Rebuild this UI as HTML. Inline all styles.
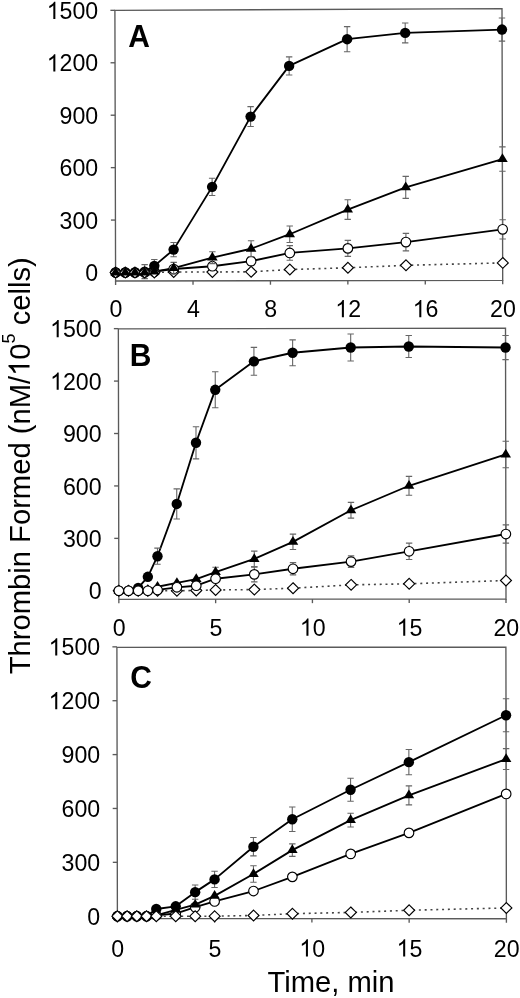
<!DOCTYPE html>
<html><head><meta charset="utf-8"><style>
html,body{margin:0;padding:0;background:#fff;}
body{width:520px;height:998px;overflow:hidden;}
svg{display:block;filter:grayscale(1);}
.tl{font-family:"Liberation Sans",sans-serif;font-size:24px;fill:#000;}
.pl{font-family:"Liberation Sans",sans-serif;font-size:30px;font-weight:bold;fill:#000;}
.at{font-family:"Liberation Sans",sans-serif;font-size:29.2px;fill:#000;}
</style></head><body>
<svg width="520" height="998" viewBox="0 0 520 998">
<path d="M114.90 10.40L502.00 8.70L502.70 280.30L115.60 281.00Z" fill="none" stroke="#5a5a5a" stroke-width="1.35"/>
<path d="M111.08 272.50H115.58" stroke="#5a5a5a" stroke-width="1.35"/>
<path d="M110.94 220.07H115.44" stroke="#5a5a5a" stroke-width="1.35"/>
<path d="M110.81 167.64H115.31" stroke="#5a5a5a" stroke-width="1.35"/>
<path d="M110.67 115.21H115.17" stroke="#5a5a5a" stroke-width="1.35"/>
<path d="M110.54 62.78H115.04" stroke="#5a5a5a" stroke-width="1.35"/>
<path d="M110.40 10.34H114.90" stroke="#5a5a5a" stroke-width="1.35"/>
<path d="M115.60 281.00V285.00" stroke="#5a5a5a" stroke-width="1.35"/>
<path d="M193.02 280.86V284.86" stroke="#5a5a5a" stroke-width="1.35"/>
<path d="M270.44 280.72V284.72" stroke="#5a5a5a" stroke-width="1.35"/>
<path d="M347.86 280.58V284.58" stroke="#5a5a5a" stroke-width="1.35"/>
<path d="M425.28 280.44V284.44" stroke="#5a5a5a" stroke-width="1.35"/>
<path d="M502.70 280.30V284.30" stroke="#5a5a5a" stroke-width="1.35"/>
<g transform="translate(98.25 0) scale(0.965 1) translate(-98.25 0)"><text x="84.90" y="281.10" class="tl">0</text></g>
<g transform="translate(98.25 0) scale(0.965 1) translate(-98.25 0)"><text x="58.21" y="228.67" class="tl">300</text></g>
<g transform="translate(98.25 0) scale(0.965 1) translate(-98.25 0)"><text x="58.21" y="176.24" class="tl">600</text></g>
<g transform="translate(98.25 0) scale(0.965 1) translate(-98.25 0)"><text x="58.21" y="123.81" class="tl">900</text></g>
<g transform="translate(98.25 0) scale(0.965 1) translate(-98.25 0)"><path transform="translate(44.86 71.38) scale(0.01172 -0.01172)" d="M763 0H583V1147Q518 1085 412 1023Q307 961 223 930V1104Q374 1175 487 1276Q600 1377 647 1472H763Z"/><text x="58.21" y="71.38" class="tl">200</text></g>
<g transform="translate(98.25 0) scale(0.965 1) translate(-98.25 0)"><path transform="translate(44.86 18.94) scale(0.01172 -0.01172)" d="M763 0H583V1147Q518 1085 412 1023Q307 961 223 930V1104Q374 1175 487 1276Q600 1377 647 1472H763Z"/><text x="58.21" y="18.94" class="tl">500</text></g>
<g transform="translate(115.90 0) scale(0.965 1) translate(-115.90 0)"><text x="109.23" y="317.35" class="tl">0</text></g>
<g transform="translate(193.32 0) scale(0.965 1) translate(-193.32 0)"><text x="186.65" y="317.35" class="tl">4</text></g>
<g transform="translate(270.74 0) scale(0.965 1) translate(-270.74 0)"><text x="264.07" y="317.35" class="tl">8</text></g>
<g transform="translate(348.16 0) scale(0.965 1) translate(-348.16 0)"><path transform="translate(334.81 317.35) scale(0.01172 -0.01172)" d="M763 0H583V1147Q518 1085 412 1023Q307 961 223 930V1104Q374 1175 487 1276Q600 1377 647 1472H763Z"/><text x="348.16" y="317.35" class="tl">2</text></g>
<g transform="translate(425.58 0) scale(0.965 1) translate(-425.58 0)"><path transform="translate(412.23 317.35) scale(0.01172 -0.01172)" d="M763 0H583V1147Q518 1085 412 1023Q307 961 223 930V1104Q374 1175 487 1276Q600 1377 647 1472H763Z"/><text x="425.58" y="317.35" class="tl">6</text></g>
<g transform="translate(503.00 0) scale(0.965 1) translate(-503.00 0)"><text x="489.65" y="317.35" class="tl">20</text></g>
<text transform="translate(128.2 47.1) scale(1 1.07)" class="pl">A</text>
<polyline points="115.62,272.50 125.30,272.50 134.98,272.50 144.66,271.63 154.32,265.86 173.62,249.61 212.12,186.86 250.60,116.61 289.14,65.92 347.13,39.18 405.19,32.89 501.97,29.57" fill="none" stroke="#000" stroke-width="1.85" stroke-linejoin="round"/>
<polyline points="115.62,272.50 125.30,272.50 134.98,272.50 144.66,272.50 154.34,271.63 173.69,268.13 212.37,257.64 251.06,248.73 289.73,234.23 347.72,209.58 405.73,187.39 502.43,159.07" fill="none" stroke="#000" stroke-width="1.85" stroke-linejoin="round"/>
<polyline points="115.62,272.50 125.30,272.50 134.98,272.50 144.66,272.50 154.34,271.63 173.69,269.00 212.40,266.21 251.10,261.14 289.80,252.93 347.86,248.38 405.92,242.09 502.67,229.33" fill="none" stroke="#000" stroke-width="1.85" stroke-linejoin="round"/>
<polyline points="115.62,272.50 125.30,272.50 134.98,272.50 144.66,272.50 154.34,272.50 173.70,271.98 212.42,271.98 251.14,271.80 289.85,269.53 347.93,267.78 406.00,265.33 502.79,262.89" fill="none" stroke="#444" stroke-width="1.6" stroke-dasharray="2 3.8"/>
<path d="M173.62 242.44V256.77M170.42 242.44H176.82M170.42 256.77H176.82" stroke="#666" stroke-width="1.1" fill="none"/>
<path d="M212.12 178.30V195.43M208.92 178.30H215.32M208.92 195.43H215.32" stroke="#666" stroke-width="1.1" fill="none"/>
<path d="M250.60 106.64V126.57M247.40 106.64H253.80M247.40 126.57H253.80" stroke="#666" stroke-width="1.1" fill="none"/>
<path d="M289.14 56.83V75.01M285.94 56.83H292.34M285.94 75.01H292.34" stroke="#666" stroke-width="1.1" fill="none"/>
<path d="M347.13 26.60V51.77M343.93 26.60H350.33M343.93 51.77H350.33" stroke="#666" stroke-width="1.1" fill="none"/>
<path d="M405.19 22.93V42.85M401.99 22.93H408.39M401.99 42.85H408.39" stroke="#666" stroke-width="1.1" fill="none"/>
<path d="M501.97 18.03V41.10M498.77 18.03H505.17M498.77 41.10H505.17" stroke="#666" stroke-width="1.1" fill="none"/>
<circle cx="173.62" cy="249.61" r="5.2" fill="#000"/>
<circle cx="212.12" cy="186.86" r="5.2" fill="#000"/>
<circle cx="250.60" cy="116.61" r="5.2" fill="#000"/>
<circle cx="289.14" cy="65.92" r="5.2" fill="#000"/>
<circle cx="347.13" cy="39.18" r="5.2" fill="#000"/>
<circle cx="405.19" cy="32.89" r="5.2" fill="#000"/>
<circle cx="501.97" cy="29.57" r="5.2" fill="#000"/>
<path d="M173.70 266.58L179.20 271.98L173.70 277.38L168.20 271.98Z" fill="#fff" stroke="#000" stroke-width="1.15"/>
<path d="M212.42 266.58L217.92 271.98L212.42 277.38L206.92 271.98Z" fill="#fff" stroke="#000" stroke-width="1.15"/>
<path d="M251.14 266.40L256.64 271.80L251.14 277.20L245.64 271.80Z" fill="#fff" stroke="#000" stroke-width="1.15"/>
<path d="M289.85 264.13L295.35 269.53L289.85 274.93L284.35 269.53Z" fill="#fff" stroke="#000" stroke-width="1.15"/>
<path d="M347.93 262.38L353.43 267.78L347.93 273.18L342.43 267.78Z" fill="#fff" stroke="#000" stroke-width="1.15"/>
<path d="M406.00 259.93L411.50 265.33L406.00 270.73L400.50 265.33Z" fill="#fff" stroke="#000" stroke-width="1.15"/>
<path d="M502.79 257.49L508.29 262.89L502.79 268.29L497.29 262.89Z" fill="#fff" stroke="#000" stroke-width="1.15"/>
<path d="M251.10 257.12V265.16M247.90 257.12H254.30M247.90 265.16H254.30" stroke="#666" stroke-width="1.1" fill="none"/>
<path d="M289.80 245.59V260.27M286.60 245.59H293.00M286.60 260.27H293.00" stroke="#666" stroke-width="1.1" fill="none"/>
<path d="M347.86 240.34V256.42M344.66 240.34H351.06M344.66 256.42H351.06" stroke="#666" stroke-width="1.1" fill="none"/>
<path d="M405.92 233.35V250.83M402.72 233.35H409.12M402.72 250.83H409.12" stroke="#666" stroke-width="1.1" fill="none"/>
<path d="M502.67 219.72V238.94M499.47 219.72H505.87M499.47 238.94H505.87" stroke="#666" stroke-width="1.1" fill="none"/>
<circle cx="173.69" cy="269.00" r="4.8" fill="#fff" stroke="#000" stroke-width="1.15"/>
<circle cx="212.40" cy="266.21" r="4.8" fill="#fff" stroke="#000" stroke-width="1.15"/>
<circle cx="251.10" cy="261.14" r="4.8" fill="#fff" stroke="#000" stroke-width="1.15"/>
<circle cx="289.80" cy="252.93" r="4.8" fill="#fff" stroke="#000" stroke-width="1.15"/>
<circle cx="347.86" cy="248.38" r="4.8" fill="#fff" stroke="#000" stroke-width="1.15"/>
<circle cx="405.92" cy="242.09" r="4.8" fill="#fff" stroke="#000" stroke-width="1.15"/>
<circle cx="502.67" cy="229.33" r="4.8" fill="#fff" stroke="#000" stroke-width="1.15"/>
<path d="M173.69 262.36V273.90M170.49 262.36H176.89M170.49 273.90H176.89" stroke="#666" stroke-width="1.1" fill="none"/>
<path d="M212.37 251.70V263.59M209.17 251.70H215.57M209.17 263.59H215.57" stroke="#666" stroke-width="1.1" fill="none"/>
<path d="M251.06 240.69V256.77M247.86 240.69H254.26M247.86 256.77H254.26" stroke="#666" stroke-width="1.1" fill="none"/>
<path d="M289.73 226.01V242.44M286.53 226.01H292.93M286.53 242.44H292.93" stroke="#666" stroke-width="1.1" fill="none"/>
<path d="M347.72 199.80V219.37M344.52 199.80H350.92M344.52 219.37H350.92" stroke="#666" stroke-width="1.1" fill="none"/>
<path d="M405.73 176.38V198.40M402.53 176.38H408.93M402.53 198.40H408.93" stroke="#666" stroke-width="1.1" fill="none"/>
<path d="M502.43 146.84V171.31M499.23 146.84H505.63M499.23 171.31H505.63" stroke="#666" stroke-width="1.1" fill="none"/>
<path d="M173.69 262.33L178.99 271.03H168.39Z" fill="#000"/>
<path d="M212.37 251.84L217.67 260.54H207.07Z" fill="#000"/>
<path d="M251.06 242.93L256.36 251.63H245.76Z" fill="#000"/>
<path d="M289.73 228.43L295.03 237.13H284.43Z" fill="#000"/>
<path d="M347.72 203.78L353.02 212.48H342.42Z" fill="#000"/>
<path d="M405.73 181.59L411.03 190.29H400.43Z" fill="#000"/>
<path d="M502.43 153.27L507.73 161.97H497.13Z" fill="#000"/>
<circle cx="115.62" cy="272.50" r="4.8" fill="#fff" stroke="#000" stroke-width="1.15"/>
<circle cx="125.30" cy="272.50" r="4.8" fill="#fff" stroke="#000" stroke-width="1.15"/>
<circle cx="134.98" cy="272.50" r="4.8" fill="#fff" stroke="#000" stroke-width="1.15"/>
<circle cx="144.66" cy="272.50" r="4.8" fill="#fff" stroke="#000" stroke-width="1.15"/>
<circle cx="154.34" cy="271.63" r="4.8" fill="#fff" stroke="#000" stroke-width="1.15"/>
<path d="M144.66 264.64V278.62M141.46 264.64H147.86M141.46 278.62H147.86" stroke="#666" stroke-width="1.1" fill="none"/>
<path d="M154.32 259.57V272.15M151.12 259.57H157.52M151.12 272.15H157.52" stroke="#666" stroke-width="1.1" fill="none"/>
<circle cx="115.62" cy="272.50" r="5.2" fill="#000"/>
<circle cx="125.30" cy="272.50" r="5.2" fill="#000"/>
<circle cx="134.98" cy="272.50" r="5.2" fill="#000"/>
<circle cx="144.66" cy="271.63" r="5.2" fill="#000"/>
<circle cx="154.32" cy="265.86" r="5.2" fill="#000"/>
<path d="M115.62 267.10L121.12 272.50L115.62 277.90L110.12 272.50Z" fill="#fff" stroke="#000" stroke-width="1.15"/>
<path d="M125.30 267.10L130.80 272.50L125.30 277.90L119.80 272.50Z" fill="#fff" stroke="#000" stroke-width="1.15"/>
<path d="M134.98 267.10L140.48 272.50L134.98 277.90L129.48 272.50Z" fill="#fff" stroke="#000" stroke-width="1.15"/>
<path d="M144.66 267.10L150.16 272.50L144.66 277.90L139.16 272.50Z" fill="#fff" stroke="#000" stroke-width="1.15"/>
<path d="M154.34 267.10L159.84 272.50L154.34 277.90L148.84 272.50Z" fill="#fff" stroke="#000" stroke-width="1.15"/>
<path d="M115.62 266.70L120.92 275.40H110.32Z" fill="#000"/>
<path d="M125.30 266.70L130.60 275.40H120.00Z" fill="#000"/>
<path d="M134.98 266.70L140.28 275.40H129.68Z" fill="#000"/>
<path d="M144.66 266.70L149.96 275.40H139.36Z" fill="#000"/>
<path d="M154.34 265.83L159.64 274.53H149.04Z" fill="#000"/>
<path d="M118.35 328.80L505.50 328.10L506.00 599.00L118.85 599.30Z" fill="none" stroke="#5a5a5a" stroke-width="1.35"/>
<path d="M114.33 590.80H118.83" stroke="#5a5a5a" stroke-width="1.35"/>
<path d="M114.24 538.37H118.74" stroke="#5a5a5a" stroke-width="1.35"/>
<path d="M114.14 485.94H118.64" stroke="#5a5a5a" stroke-width="1.35"/>
<path d="M114.04 433.51H118.54" stroke="#5a5a5a" stroke-width="1.35"/>
<path d="M113.95 381.08H118.45" stroke="#5a5a5a" stroke-width="1.35"/>
<path d="M113.85 328.64H118.35" stroke="#5a5a5a" stroke-width="1.35"/>
<path d="M118.85 599.30V603.30" stroke="#5a5a5a" stroke-width="1.35"/>
<path d="M215.64 599.22V603.22" stroke="#5a5a5a" stroke-width="1.35"/>
<path d="M312.42 599.15V603.15" stroke="#5a5a5a" stroke-width="1.35"/>
<path d="M409.21 599.08V603.08" stroke="#5a5a5a" stroke-width="1.35"/>
<path d="M506.00 599.00V603.00" stroke="#5a5a5a" stroke-width="1.35"/>
<g transform="translate(101.60 0) scale(0.965 1) translate(-101.60 0)"><text x="88.25" y="599.40" class="tl">0</text></g>
<g transform="translate(101.60 0) scale(0.965 1) translate(-101.60 0)"><text x="61.56" y="546.97" class="tl">300</text></g>
<g transform="translate(101.60 0) scale(0.965 1) translate(-101.60 0)"><text x="61.56" y="494.54" class="tl">600</text></g>
<g transform="translate(101.60 0) scale(0.965 1) translate(-101.60 0)"><text x="61.56" y="442.11" class="tl">900</text></g>
<g transform="translate(101.60 0) scale(0.965 1) translate(-101.60 0)"><path transform="translate(48.21 389.68) scale(0.01172 -0.01172)" d="M763 0H583V1147Q518 1085 412 1023Q307 961 223 930V1104Q374 1175 487 1276Q600 1377 647 1472H763Z"/><text x="61.56" y="389.68" class="tl">200</text></g>
<g transform="translate(101.60 0) scale(0.965 1) translate(-101.60 0)"><path transform="translate(48.21 337.24) scale(0.01172 -0.01172)" d="M763 0H583V1147Q518 1085 412 1023Q307 961 223 930V1104Q374 1175 487 1276Q600 1377 647 1472H763Z"/><text x="61.56" y="337.24" class="tl">500</text></g>
<g transform="translate(119.15 0) scale(0.965 1) translate(-119.15 0)"><text x="112.48" y="635.85" class="tl">0</text></g>
<g transform="translate(215.94 0) scale(0.965 1) translate(-215.94 0)"><text x="209.26" y="635.85" class="tl">5</text></g>
<g transform="translate(312.72 0) scale(0.965 1) translate(-312.72 0)"><path transform="translate(299.38 635.85) scale(0.01172 -0.01172)" d="M763 0H583V1147Q518 1085 412 1023Q307 961 223 930V1104Q374 1175 487 1276Q600 1377 647 1472H763Z"/><text x="312.72" y="635.85" class="tl">0</text></g>
<g transform="translate(409.51 0) scale(0.965 1) translate(-409.51 0)"><path transform="translate(396.16 635.85) scale(0.01172 -0.01172)" d="M763 0H583V1147Q518 1085 412 1023Q307 961 223 930V1104Q374 1175 487 1276Q600 1377 647 1472H763Z"/><text x="409.51" y="635.85" class="tl">5</text></g>
<g transform="translate(506.30 0) scale(0.965 1) translate(-506.30 0)"><text x="492.95" y="635.85" class="tl">20</text></g>
<text transform="translate(129.8 365.8) scale(1 1.07)" class="pl">B</text>
<polyline points="118.83,590.80 128.51,590.80 138.18,587.83 147.84,576.82 157.48,556.20 176.74,503.94 195.99,442.77 215.25,389.81 253.92,361.33 292.62,352.76 350.68,347.52 408.75,346.47 505.54,347.52" fill="none" stroke="#000" stroke-width="1.85" stroke-linejoin="round"/>
<polyline points="118.83,590.80 128.51,590.80 138.19,590.80 147.86,589.93 157.54,586.78 176.89,582.94 196.24,579.09 215.58,572.10 254.27,558.99 292.96,541.86 350.97,510.23 409.00,485.76 505.73,454.48" fill="none" stroke="#000" stroke-width="1.85" stroke-linejoin="round"/>
<polyline points="118.83,590.80 128.51,590.80 138.19,590.80 147.86,590.80 157.54,589.93 176.89,587.30 196.25,585.73 215.59,578.74 254.30,574.37 293.01,568.78 351.07,561.61 409.12,551.30 505.88,534.00" fill="none" stroke="#000" stroke-width="1.85" stroke-linejoin="round"/>
<polyline points="118.83,590.80 128.51,590.80 138.19,590.80 147.86,590.80 157.54,590.80 176.90,590.80 196.26,590.45 215.61,589.93 254.33,589.58 293.04,588.18 351.11,584.86 409.18,583.81 505.96,580.49" fill="none" stroke="#444" stroke-width="1.6" stroke-dasharray="2 3.8"/>
<path d="M118.83 585.40L124.33 590.80L118.83 596.20L113.33 590.80Z" fill="#fff" stroke="#000" stroke-width="1.15"/>
<path d="M128.51 585.40L134.01 590.80L128.51 596.20L123.01 590.80Z" fill="#fff" stroke="#000" stroke-width="1.15"/>
<path d="M138.19 585.40L143.69 590.80L138.19 596.20L132.69 590.80Z" fill="#fff" stroke="#000" stroke-width="1.15"/>
<path d="M147.86 585.40L153.36 590.80L147.86 596.20L142.36 590.80Z" fill="#fff" stroke="#000" stroke-width="1.15"/>
<path d="M157.54 585.40L163.04 590.80L157.54 596.20L152.04 590.80Z" fill="#fff" stroke="#000" stroke-width="1.15"/>
<path d="M176.90 585.40L182.40 590.80L176.90 596.20L171.40 590.80Z" fill="#fff" stroke="#000" stroke-width="1.15"/>
<path d="M196.26 585.05L201.76 590.45L196.26 595.85L190.76 590.45Z" fill="#fff" stroke="#000" stroke-width="1.15"/>
<path d="M215.61 584.53L221.11 589.93L215.61 595.33L210.11 589.93Z" fill="#fff" stroke="#000" stroke-width="1.15"/>
<path d="M254.33 584.18L259.83 589.58L254.33 594.98L248.83 589.58Z" fill="#fff" stroke="#000" stroke-width="1.15"/>
<path d="M293.04 582.78L298.54 588.18L293.04 593.58L287.54 588.18Z" fill="#fff" stroke="#000" stroke-width="1.15"/>
<path d="M351.11 579.46L356.61 584.86L351.11 590.26L345.61 584.86Z" fill="#fff" stroke="#000" stroke-width="1.15"/>
<path d="M409.18 578.41L414.68 583.81L409.18 589.21L403.68 583.81Z" fill="#fff" stroke="#000" stroke-width="1.15"/>
<path d="M505.96 575.09L511.46 580.49L505.96 585.89L500.46 580.49Z" fill="#fff" stroke="#000" stroke-width="1.15"/>
<path d="M157.48 548.16V564.23M154.28 548.16H160.68M154.28 564.23H160.68" stroke="#666" stroke-width="1.1" fill="none"/>
<path d="M176.74 488.91V518.97M173.54 488.91H179.94M173.54 518.97H179.94" stroke="#666" stroke-width="1.1" fill="none"/>
<path d="M195.99 426.69V458.85M192.79 426.69H199.19M192.79 458.85H199.19" stroke="#666" stroke-width="1.1" fill="none"/>
<path d="M215.25 371.81V407.82M212.05 371.81H218.45M212.05 407.82H218.45" stroke="#666" stroke-width="1.1" fill="none"/>
<path d="M253.92 347.35V375.31M250.72 347.35H257.12M250.72 375.31H257.12" stroke="#666" stroke-width="1.1" fill="none"/>
<path d="M292.62 339.83V365.70M289.42 339.83H295.82M289.42 365.70H295.82" stroke="#666" stroke-width="1.1" fill="none"/>
<path d="M350.68 334.06V360.98M347.48 334.06H353.88M347.48 360.98H353.88" stroke="#666" stroke-width="1.1" fill="none"/>
<path d="M408.75 335.46V357.48M405.55 335.46H411.95M405.55 357.48H411.95" stroke="#666" stroke-width="1.1" fill="none"/>
<path d="M505.54 335.46V359.58M502.34 335.46H508.74M502.34 359.58H508.74" stroke="#666" stroke-width="1.1" fill="none"/>
<circle cx="118.83" cy="590.80" r="5.2" fill="#000"/>
<circle cx="128.51" cy="590.80" r="5.2" fill="#000"/>
<circle cx="138.18" cy="587.83" r="5.2" fill="#000"/>
<circle cx="147.84" cy="576.82" r="5.2" fill="#000"/>
<circle cx="157.48" cy="556.20" r="5.2" fill="#000"/>
<circle cx="176.74" cy="503.94" r="5.2" fill="#000"/>
<circle cx="195.99" cy="442.77" r="5.2" fill="#000"/>
<circle cx="215.25" cy="389.81" r="5.2" fill="#000"/>
<circle cx="253.92" cy="361.33" r="5.2" fill="#000"/>
<circle cx="292.62" cy="352.76" r="5.2" fill="#000"/>
<circle cx="350.68" cy="347.52" r="5.2" fill="#000"/>
<circle cx="408.75" cy="346.47" r="5.2" fill="#000"/>
<circle cx="505.54" cy="347.52" r="5.2" fill="#000"/>
<path d="M215.58 567.21V576.99M212.38 567.21H218.78M212.38 576.99H218.78" stroke="#666" stroke-width="1.1" fill="none"/>
<path d="M254.27 551.13V566.86M251.07 551.13H257.47M251.07 566.86H257.47" stroke="#666" stroke-width="1.1" fill="none"/>
<path d="M292.96 534.17V549.55M289.76 534.17H296.16M289.76 549.55H296.16" stroke="#666" stroke-width="1.1" fill="none"/>
<path d="M350.97 502.37V518.10M347.77 502.37H354.17M347.77 518.10H354.17" stroke="#666" stroke-width="1.1" fill="none"/>
<path d="M409.00 476.33V495.20M405.80 476.33H412.20M405.80 495.20H412.20" stroke="#666" stroke-width="1.1" fill="none"/>
<path d="M505.73 441.20V467.76M502.53 441.20H508.93M502.53 467.76H508.93" stroke="#666" stroke-width="1.1" fill="none"/>
<path d="M118.83 585.00L124.13 593.70H113.53Z" fill="#000"/>
<path d="M128.51 585.00L133.81 593.70H123.21Z" fill="#000"/>
<path d="M138.19 585.00L143.49 593.70H132.89Z" fill="#000"/>
<path d="M147.86 584.13L153.16 592.83H142.56Z" fill="#000"/>
<path d="M157.54 580.98L162.84 589.68H152.24Z" fill="#000"/>
<path d="M176.89 577.14L182.19 585.84H171.59Z" fill="#000"/>
<path d="M196.24 573.29L201.54 581.99H190.94Z" fill="#000"/>
<path d="M215.58 566.30L220.88 575.00H210.28Z" fill="#000"/>
<path d="M254.27 553.19L259.57 561.89H248.97Z" fill="#000"/>
<path d="M292.96 536.06L298.26 544.76H287.66Z" fill="#000"/>
<path d="M350.97 504.43L356.27 513.13H345.67Z" fill="#000"/>
<path d="M409.00 479.96L414.30 488.66H403.70Z" fill="#000"/>
<path d="M505.73 448.68L511.03 457.38H500.43Z" fill="#000"/>
<path d="M254.30 566.86V581.89M251.10 566.86H257.50M251.10 581.89H257.50" stroke="#666" stroke-width="1.1" fill="none"/>
<path d="M293.01 562.66V574.90M289.81 562.66H296.21M289.81 574.90H296.21" stroke="#666" stroke-width="1.1" fill="none"/>
<path d="M351.07 555.85V567.38M347.87 555.85H354.27M347.87 567.38H354.27" stroke="#666" stroke-width="1.1" fill="none"/>
<path d="M409.12 543.09V559.52M405.92 543.09H412.32M405.92 559.52H412.32" stroke="#666" stroke-width="1.1" fill="none"/>
<path d="M505.88 524.91V543.09M502.68 524.91H509.08M502.68 543.09H509.08" stroke="#666" stroke-width="1.1" fill="none"/>
<circle cx="118.83" cy="590.80" r="4.8" fill="#fff" stroke="#000" stroke-width="1.15"/>
<circle cx="128.51" cy="590.80" r="4.8" fill="#fff" stroke="#000" stroke-width="1.15"/>
<circle cx="138.19" cy="590.80" r="4.8" fill="#fff" stroke="#000" stroke-width="1.15"/>
<circle cx="147.86" cy="590.80" r="4.8" fill="#fff" stroke="#000" stroke-width="1.15"/>
<circle cx="157.54" cy="589.93" r="4.8" fill="#fff" stroke="#000" stroke-width="1.15"/>
<circle cx="176.89" cy="587.30" r="4.8" fill="#fff" stroke="#000" stroke-width="1.15"/>
<circle cx="196.25" cy="585.73" r="4.8" fill="#fff" stroke="#000" stroke-width="1.15"/>
<circle cx="215.59" cy="578.74" r="4.8" fill="#fff" stroke="#000" stroke-width="1.15"/>
<circle cx="254.30" cy="574.37" r="4.8" fill="#fff" stroke="#000" stroke-width="1.15"/>
<circle cx="293.01" cy="568.78" r="4.8" fill="#fff" stroke="#000" stroke-width="1.15"/>
<circle cx="351.07" cy="561.61" r="4.8" fill="#fff" stroke="#000" stroke-width="1.15"/>
<circle cx="409.12" cy="551.30" r="4.8" fill="#fff" stroke="#000" stroke-width="1.15"/>
<circle cx="505.88" cy="534.00" r="4.8" fill="#fff" stroke="#000" stroke-width="1.15"/>
<path d="M116.90 647.30L505.90 647.10L506.40 918.75L117.40 918.50Z" fill="none" stroke="#5a5a5a" stroke-width="1.35"/>
<path d="M112.90 916.20H117.40" stroke="#5a5a5a" stroke-width="1.35"/>
<path d="M112.80 862.33H117.30" stroke="#5a5a5a" stroke-width="1.35"/>
<path d="M112.70 808.46H117.20" stroke="#5a5a5a" stroke-width="1.35"/>
<path d="M112.60 754.59H117.10" stroke="#5a5a5a" stroke-width="1.35"/>
<path d="M112.50 700.72H117.00" stroke="#5a5a5a" stroke-width="1.35"/>
<path d="M112.40 646.85H116.90" stroke="#5a5a5a" stroke-width="1.35"/>
<path d="M117.40 918.50V922.50" stroke="#5a5a5a" stroke-width="1.35"/>
<path d="M214.65 918.56V922.56" stroke="#5a5a5a" stroke-width="1.35"/>
<path d="M311.90 918.62V922.62" stroke="#5a5a5a" stroke-width="1.35"/>
<path d="M409.15 918.69V922.69" stroke="#5a5a5a" stroke-width="1.35"/>
<path d="M506.40 918.75V922.75" stroke="#5a5a5a" stroke-width="1.35"/>
<g transform="translate(100.15 0) scale(0.965 1) translate(-100.15 0)"><text x="86.80" y="924.80" class="tl">0</text></g>
<g transform="translate(100.15 0) scale(0.965 1) translate(-100.15 0)"><text x="60.11" y="870.93" class="tl">300</text></g>
<g transform="translate(100.15 0) scale(0.965 1) translate(-100.15 0)"><text x="60.11" y="817.06" class="tl">600</text></g>
<g transform="translate(100.15 0) scale(0.965 1) translate(-100.15 0)"><text x="60.11" y="763.19" class="tl">900</text></g>
<g transform="translate(100.15 0) scale(0.965 1) translate(-100.15 0)"><path transform="translate(46.76 709.32) scale(0.01172 -0.01172)" d="M763 0H583V1147Q518 1085 412 1023Q307 961 223 930V1104Q374 1175 487 1276Q600 1377 647 1472H763Z"/><text x="60.11" y="709.32" class="tl">200</text></g>
<g transform="translate(100.15 0) scale(0.965 1) translate(-100.15 0)"><path transform="translate(46.76 655.45) scale(0.01172 -0.01172)" d="M763 0H583V1147Q518 1085 412 1023Q307 961 223 930V1104Q374 1175 487 1276Q600 1377 647 1472H763Z"/><text x="60.11" y="655.45" class="tl">500</text></g>
<g transform="translate(117.70 0) scale(0.965 1) translate(-117.70 0)"><text x="111.03" y="956.62" class="tl">0</text></g>
<g transform="translate(214.95 0) scale(0.965 1) translate(-214.95 0)"><text x="208.28" y="956.62" class="tl">5</text></g>
<g transform="translate(312.20 0) scale(0.965 1) translate(-312.20 0)"><path transform="translate(298.85 956.62) scale(0.01172 -0.01172)" d="M763 0H583V1147Q518 1085 412 1023Q307 961 223 930V1104Q374 1175 487 1276Q600 1377 647 1472H763Z"/><text x="312.20" y="956.62" class="tl">0</text></g>
<g transform="translate(409.45 0) scale(0.965 1) translate(-409.45 0)"><path transform="translate(396.10 956.62) scale(0.01172 -0.01172)" d="M763 0H583V1147Q518 1085 412 1023Q307 961 223 930V1104Q374 1175 487 1276Q600 1377 647 1472H763Z"/><text x="409.45" y="956.62" class="tl">5</text></g>
<g transform="translate(506.70 0) scale(0.965 1) translate(-506.70 0)"><text x="493.35" y="956.62" class="tl">20</text></g>
<text transform="translate(130.2 688.3) scale(1 1.07)" class="pl">C</text>
<polyline points="117.39,916.20 127.11,916.20 136.84,916.20 146.56,916.20 156.28,909.02 175.72,906.32 195.15,892.14 214.57,879.39 253.41,846.71 292.27,819.23 350.56,789.78 408.86,762.13 506.03,715.26" fill="none" stroke="#000" stroke-width="1.85" stroke-linejoin="round"/>
<polyline points="117.39,916.20 127.11,916.20 136.84,916.20 146.56,916.20 156.29,915.30 175.73,909.92 195.17,904.71 214.60,895.91 253.46,874.00 292.32,850.12 350.62,820.13 408.92,795.35 506.11,759.08" fill="none" stroke="#000" stroke-width="1.85" stroke-linejoin="round"/>
<polyline points="117.39,916.20 127.11,916.20 136.84,916.20 146.56,916.20 156.29,915.30 175.73,913.51 195.17,907.22 214.61,901.48 253.49,891.06 292.37,876.87 350.68,853.89 408.99,832.88 506.17,793.91" fill="none" stroke="#000" stroke-width="1.85" stroke-linejoin="round"/>
<polyline points="117.39,916.20 127.11,916.20 136.84,916.20 146.56,916.20 156.29,916.20 175.74,916.20 195.19,916.20 214.64,916.20 253.54,915.48 292.44,913.69 350.78,912.43 409.13,910.27 506.37,907.94" fill="none" stroke="#444" stroke-width="1.6" stroke-dasharray="2 3.8"/>
<circle cx="117.39" cy="916.20" r="4.8" fill="#fff" stroke="#000" stroke-width="1.15"/>
<circle cx="127.11" cy="916.20" r="4.8" fill="#fff" stroke="#000" stroke-width="1.15"/>
<circle cx="136.84" cy="916.20" r="4.8" fill="#fff" stroke="#000" stroke-width="1.15"/>
<circle cx="146.56" cy="916.20" r="4.8" fill="#fff" stroke="#000" stroke-width="1.15"/>
<circle cx="156.29" cy="915.30" r="4.8" fill="#fff" stroke="#000" stroke-width="1.15"/>
<circle cx="175.73" cy="913.51" r="4.8" fill="#fff" stroke="#000" stroke-width="1.15"/>
<circle cx="195.17" cy="907.22" r="4.8" fill="#fff" stroke="#000" stroke-width="1.15"/>
<circle cx="214.61" cy="901.48" r="4.8" fill="#fff" stroke="#000" stroke-width="1.15"/>
<circle cx="253.49" cy="891.06" r="4.8" fill="#fff" stroke="#000" stroke-width="1.15"/>
<circle cx="292.37" cy="876.87" r="4.8" fill="#fff" stroke="#000" stroke-width="1.15"/>
<circle cx="350.68" cy="853.89" r="4.8" fill="#fff" stroke="#000" stroke-width="1.15"/>
<circle cx="408.99" cy="832.88" r="4.8" fill="#fff" stroke="#000" stroke-width="1.15"/>
<circle cx="506.17" cy="793.91" r="4.8" fill="#fff" stroke="#000" stroke-width="1.15"/>
<path d="M195.15 884.95V899.32M191.95 884.95H198.35M191.95 899.32H198.35" stroke="#666" stroke-width="1.1" fill="none"/>
<path d="M214.57 871.31V887.47M211.37 871.31H217.77M211.37 887.47H217.77" stroke="#666" stroke-width="1.1" fill="none"/>
<path d="M253.41 837.55V855.86M250.21 837.55H256.61M250.21 855.86H256.61" stroke="#666" stroke-width="1.1" fill="none"/>
<path d="M292.27 807.02V831.44M289.07 807.02H295.47M289.07 831.44H295.47" stroke="#666" stroke-width="1.1" fill="none"/>
<path d="M350.56 778.29V801.28M347.36 778.29H353.76M347.36 801.28H353.76" stroke="#666" stroke-width="1.1" fill="none"/>
<path d="M408.86 749.56V774.70M405.66 749.56H412.06M405.66 774.70H412.06" stroke="#666" stroke-width="1.1" fill="none"/>
<path d="M506.03 698.74V731.78M502.83 698.74H509.23M502.83 731.78H509.23" stroke="#666" stroke-width="1.1" fill="none"/>
<circle cx="117.39" cy="916.20" r="5.2" fill="#000"/>
<circle cx="127.11" cy="916.20" r="5.2" fill="#000"/>
<circle cx="136.84" cy="916.20" r="5.2" fill="#000"/>
<circle cx="146.56" cy="916.20" r="5.2" fill="#000"/>
<circle cx="156.28" cy="909.02" r="5.2" fill="#000"/>
<circle cx="175.72" cy="906.32" r="5.2" fill="#000"/>
<circle cx="195.15" cy="892.14" r="5.2" fill="#000"/>
<circle cx="214.57" cy="879.39" r="5.2" fill="#000"/>
<circle cx="253.41" cy="846.71" r="5.2" fill="#000"/>
<circle cx="292.27" cy="819.23" r="5.2" fill="#000"/>
<circle cx="350.56" cy="789.78" r="5.2" fill="#000"/>
<circle cx="408.86" cy="762.13" r="5.2" fill="#000"/>
<circle cx="506.03" cy="715.26" r="5.2" fill="#000"/>
<path d="M253.46 865.74V882.26M250.26 865.74H256.66M250.26 882.26H256.66" stroke="#666" stroke-width="1.1" fill="none"/>
<path d="M292.32 843.83V856.40M289.12 843.83H295.52M289.12 856.40H295.52" stroke="#666" stroke-width="1.1" fill="none"/>
<path d="M350.62 813.31V826.95M347.42 813.31H353.82M347.42 826.95H353.82" stroke="#666" stroke-width="1.1" fill="none"/>
<path d="M408.92 785.83V804.87M405.72 785.83H412.12M405.72 804.87H412.12" stroke="#666" stroke-width="1.1" fill="none"/>
<path d="M506.11 748.66V769.49M502.91 748.66H509.31M502.91 769.49H509.31" stroke="#666" stroke-width="1.1" fill="none"/>
<path d="M117.39 910.40L122.69 919.10H112.09Z" fill="#000"/>
<path d="M127.11 910.40L132.41 919.10H121.81Z" fill="#000"/>
<path d="M136.84 910.40L142.14 919.10H131.54Z" fill="#000"/>
<path d="M146.56 910.40L151.86 919.10H141.26Z" fill="#000"/>
<path d="M156.29 909.50L161.59 918.20H150.99Z" fill="#000"/>
<path d="M175.73 904.12L181.03 912.82H170.43Z" fill="#000"/>
<path d="M195.17 898.91L200.47 907.61H189.87Z" fill="#000"/>
<path d="M214.60 890.11L219.90 898.81H209.30Z" fill="#000"/>
<path d="M253.46 868.20L258.76 876.90H248.16Z" fill="#000"/>
<path d="M292.32 844.32L297.62 853.02H287.02Z" fill="#000"/>
<path d="M350.62 814.33L355.92 823.03H345.32Z" fill="#000"/>
<path d="M408.92 789.55L414.22 798.25H403.62Z" fill="#000"/>
<path d="M506.11 753.28L511.41 761.98H500.81Z" fill="#000"/>
<path d="M117.39 910.80L122.89 916.20L117.39 921.60L111.89 916.20Z" fill="#fff" stroke="#000" stroke-width="1.15"/>
<path d="M127.11 910.80L132.61 916.20L127.11 921.60L121.61 916.20Z" fill="#fff" stroke="#000" stroke-width="1.15"/>
<path d="M136.84 910.80L142.34 916.20L136.84 921.60L131.34 916.20Z" fill="#fff" stroke="#000" stroke-width="1.15"/>
<path d="M146.56 910.80L152.06 916.20L146.56 921.60L141.06 916.20Z" fill="#fff" stroke="#000" stroke-width="1.15"/>
<path d="M156.29 910.80L161.79 916.20L156.29 921.60L150.79 916.20Z" fill="#fff" stroke="#000" stroke-width="1.15"/>
<path d="M175.74 910.80L181.24 916.20L175.74 921.60L170.24 916.20Z" fill="#fff" stroke="#000" stroke-width="1.15"/>
<path d="M195.19 910.80L200.69 916.20L195.19 921.60L189.69 916.20Z" fill="#fff" stroke="#000" stroke-width="1.15"/>
<path d="M214.64 910.80L220.14 916.20L214.64 921.60L209.14 916.20Z" fill="#fff" stroke="#000" stroke-width="1.15"/>
<path d="M253.54 910.08L259.04 915.48L253.54 920.88L248.04 915.48Z" fill="#fff" stroke="#000" stroke-width="1.15"/>
<path d="M292.44 908.29L297.94 913.69L292.44 919.09L286.94 913.69Z" fill="#fff" stroke="#000" stroke-width="1.15"/>
<path d="M350.78 907.03L356.28 912.43L350.78 917.83L345.28 912.43Z" fill="#fff" stroke="#000" stroke-width="1.15"/>
<path d="M409.13 904.87L414.63 910.27L409.13 915.67L403.63 910.27Z" fill="#fff" stroke="#000" stroke-width="1.15"/>
<path d="M506.37 902.54L511.87 907.94L506.37 913.34L500.87 907.94Z" fill="#fff" stroke="#000" stroke-width="1.15"/>
<g transform="translate(29.5 674.3) rotate(-90)"><text class="at" x="0" y="0">Thrombin Formed (nM/</text><path transform="translate(298.44 0) scale(0.01426 -0.01426)" d="M763 0H583V1147Q518 1085 412 1023Q307 961 223 930V1104Q374 1175 487 1276Q600 1377 647 1472H763Z"/><text class="at" x="314.68" y="0">0</text><text class="at" x="330.9" y="-15" style="font-size:18px">5</text><text class="at" x="349.03" y="0">cells)</text></g>
<text class="at" x="267.5" y="992.2">Time, min</text>
</svg>
</body></html>
